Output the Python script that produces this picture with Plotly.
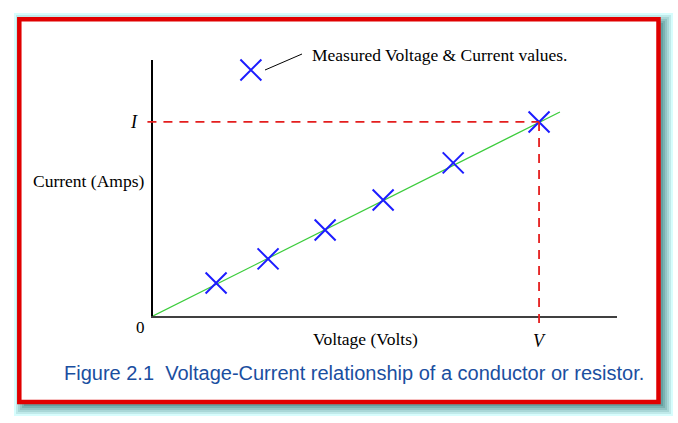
import plotly.graph_objects as go

# ---- data ----
volts = [1.36, 2.48, 3.71, 4.96, 6.47, 8.32]
amps = [1.29, 2.23, 3.36, 4.53, 5.98, 7.58]
fit_v = [0.0, 8.77]
fit_i = [0.0, 7.97]
V_val = 8.32
I_val = 7.58
key_v = [2.11]
key_i = [9.61]
x_range = [0, 10]
y_range = [0, 10]

W, H = 678, 423
def px(x): return x / W
def py(y): return 1 - y / H

SERIF = "Liberation Serif, Times New Roman, serif"
SANS = "Liberation Sans, Arial, sans-serif"
BLUE = "#1c1cff"
RED = "#e41e1e"

fig = go.Figure()

fig.add_trace(go.Scatter(x=fit_v, y=fit_i, mode="lines",
                         line=dict(color="#3ccc3c", width=1.2), hoverinfo="skip"))
fig.add_trace(go.Scatter(x=volts, y=amps, mode="markers",
                         marker=dict(symbol="x-thin", size=21, line=dict(color=BLUE, width=2)),
                         cliponaxis=False))
fig.add_trace(go.Scatter(x=key_v, y=key_i, mode="markers",
                         marker=dict(symbol="x-thin", size=21, line=dict(color=BLUE, width=2)),
                         cliponaxis=False))

shapes = []
# halo + shadow gradient
light = (215, 253, 253)
dark = (100, 160, 160)
n = 6
for k in range(n):
    t = k / (n - 1)
    c = tuple(int(light[i] + (dark[i] - light[i]) * t) for i in range(3))
    shapes.append(dict(type="rect", xref="paper", yref="paper",
                       x0=px(14 + 2 * k), y0=py(13 + 2 * k), x1=px(673 - 2 * k), y1=py(416 - 2 * k),
                       line=dict(width=0), fillcolor="rgb(%d,%d,%d)" % c, layer="below"))
# red frame
shapes.append(dict(type="rect", xref="paper", yref="paper",
                   x0=px(19.3), y0=py(19.3), x1=px(658.5), y1=py(402),
                   line=dict(color="#e00000", width=4.5), fillcolor="white", layer="below"))

# dashed guides
ydom_frac = lambda v: (v - y_range[0]) / (y_range[1] - y_range[0])
xdom_frac = lambda v: (v - x_range[0]) / (x_range[1] - x_range[0])
shapes.append(dict(type="line", xref="x domain", yref="y",
                   x0=-0.012, x1=xdom_frac(V_val), y0=I_val, y1=I_val,
                   line=dict(color=RED, width=1.8, dash="9px,7px")))
shapes.append(dict(type="line", xref="x", yref="y domain",
                   x0=V_val, x1=V_val, y0=ydom_frac(I_val), y1=-0.055,
                   line=dict(color=RED, width=1.8, dash="9px,7px")))
# leader line for key
shapes.append(dict(type="line", xref="paper", yref="paper",
                   x0=px(265), y0=py(70), x1=px(302), y1=py(54),
                   line=dict(color="black", width=1)))

def ann(text, x, y, xref="paper", yref="paper", size=17.5, family=SERIF, color="black", xanchor="center"):
    return dict(text=text, x=x, xref=xref, y=y, yref=yref, showarrow=False,
                xanchor=xanchor, yanchor="middle", font=dict(family=family, size=size, color=color))

annotations = [
    ann("<i>I</i>", px(134), I_val, yref="y", size=18),
    ann("<i>V</i>", V_val, py(341), xref="x", size=18),
    ann("0", px(140), py(327), size=17),
    ann("Current (Amps)", px(88), py(181)),
    ann("Voltage (Volts)", px(365), py(339)),
    ann("Measured Voltage &amp; Current values.", px(310), py(55), xanchor="left"),
    ann("Figure 2.1\u00a0\u00a0Voltage-Current relationship of a conductor or resistor.",
        px(354), py(373), family=SANS, size=20, color="#1a4ea0"),
]

fig.update_layout(
    width=W, height=H, margin=dict(l=0, r=0, t=0, b=0),
    paper_bgcolor="white", plot_bgcolor="rgba(0,0,0,0)",
    showlegend=False, shapes=shapes, annotations=annotations,
    xaxis=dict(domain=[px(153), px(617)], range=x_range, showgrid=False, zeroline=False,
               showticklabels=False, ticks="", showline=True, linecolor="#404040", linewidth=2),
    yaxis=dict(domain=[py(316), py(60)], range=y_range, showgrid=False, zeroline=False,
               showticklabels=False, ticks="", showline=True, linecolor="black", linewidth=1.6),
)

fig.write_html("out.html")
